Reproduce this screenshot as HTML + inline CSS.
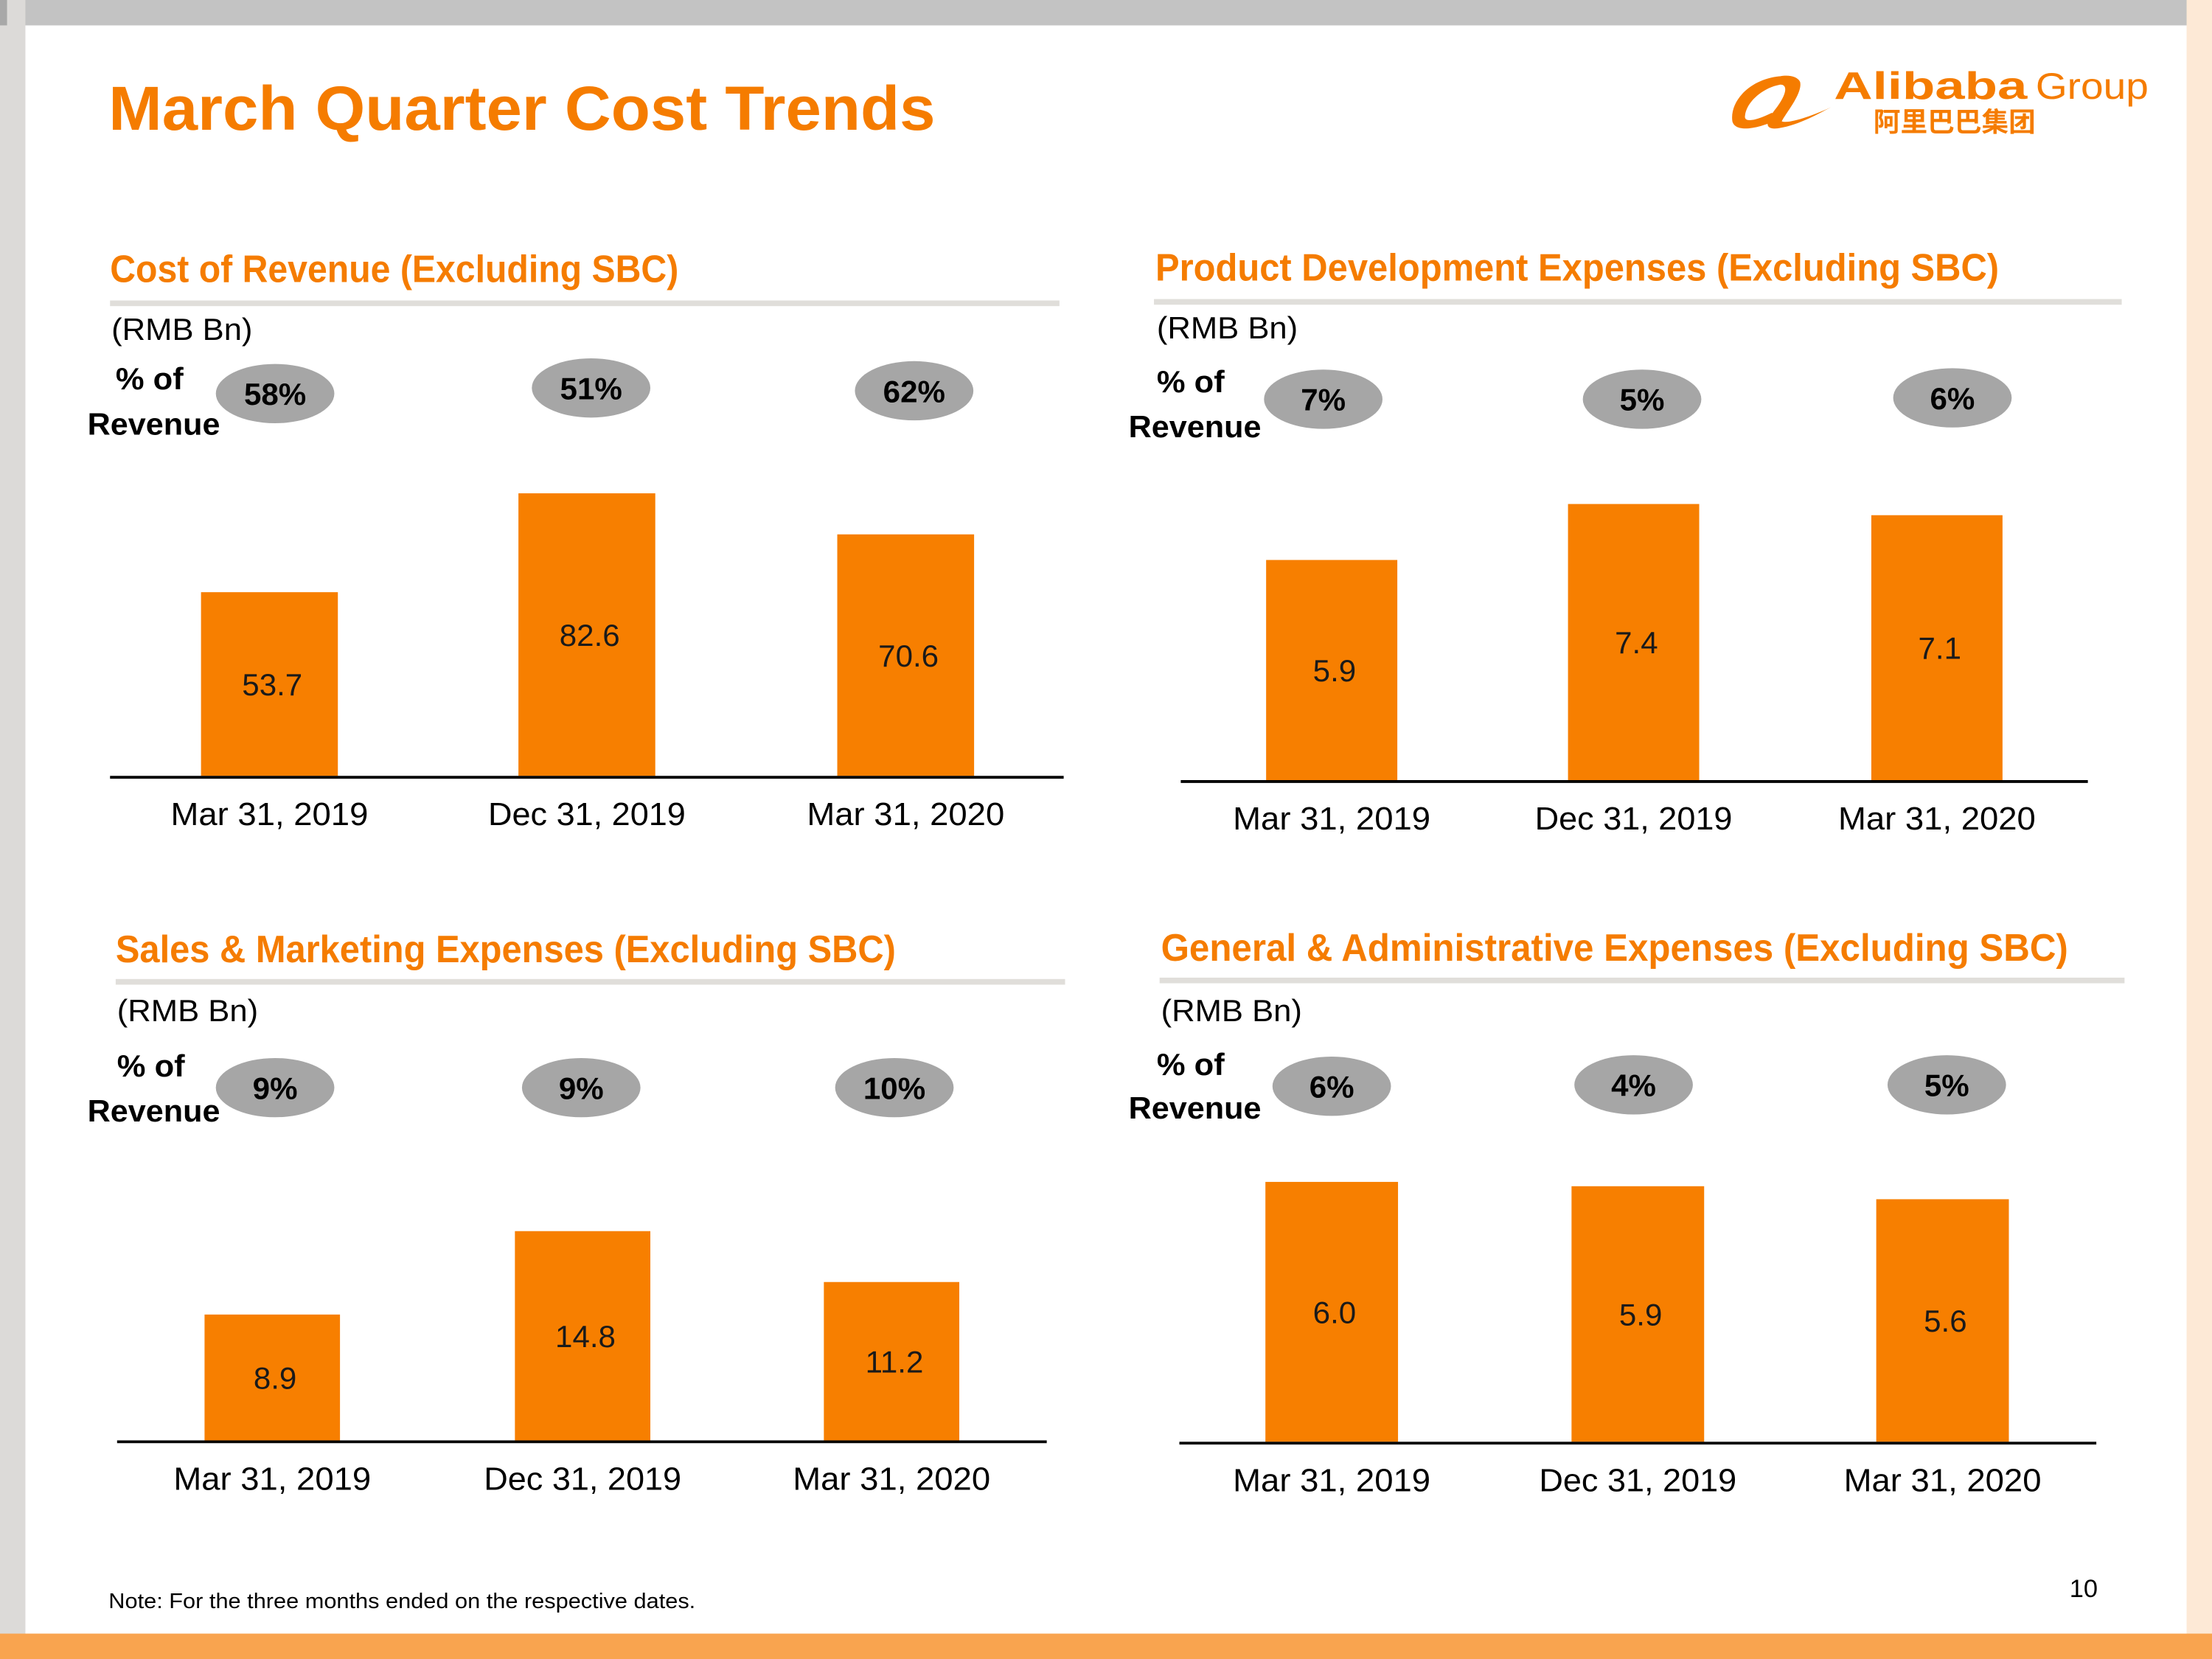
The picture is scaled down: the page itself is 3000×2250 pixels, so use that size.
<!DOCTYPE html>
<html><head><meta charset="utf-8">
<style>
html,body{margin:0;padding:0;background:#fff;}
svg{display:block;}
text{font-family:"Liberation Sans","Noto Sans CJK SC",sans-serif;}
</style></head>
<body>
<svg id="slide" width="3000" height="2250" viewBox="0 0 1568 1176" xmlns="http://www.w3.org/2000/svg">
  <rect x="0" y="0" width="1568" height="1176" fill="#ffffff"/>
  <rect x="0" y="0" width="1568" height="18" fill="#c3c3c3"/>
  <rect x="0" y="0" width="18" height="1176" fill="#dcdad8"/>
  <rect x="0" y="0" width="5" height="18" fill="#a8a8a8"/>
  <rect x="1550" y="0" width="18" height="1176" fill="#fde9d6"/>
  <rect x="0" y="1158" width="1568" height="18" fill="#f9a44f"/>

  <text x="77" y="92" font-size="44" font-weight="bold" fill="#f57c00" textLength="586" lengthAdjust="spacingAndGlyphs">March Quarter Cost Trends</text>

  <g>
    <path d="M1262,54 C1240,56 1226,72 1228,86 C1230,94 1245,92 1262,84 L1256,80 C1244,86 1236,87 1237,82 C1238,72 1250,62 1262,60 C1268,60 1266,68 1258,78 C1252,86 1250,92 1260,91 C1275,89 1290,80 1298,76 C1285,82 1268,88 1263,86 C1266,80 1278,66 1276,58 C1274,54 1268,53 1262,54 Z" fill="#f57c00"/>
    <text x="1300" y="70" font-size="27" font-weight="bold" fill="#f57c00" textLength="137" lengthAdjust="spacingAndGlyphs">Alibaba</text>
    <text x="1443" y="70" font-size="26" fill="#f57c00" textLength="80" lengthAdjust="spacingAndGlyphs">Group</text>
    <text x="1328" y="93" font-size="19" font-weight="bold" fill="#f57c00" textLength="115" lengthAdjust="spacingAndGlyphs">阿里巴巴集团</text>
  </g>

  <g id="charts"></g>

  <text x="77" y="1140" font-size="15" fill="#000" textLength="416" lengthAdjust="spacingAndGlyphs">Note: For the three months ended on the respective dates.</text>
  <text x="1467" y="1132" font-size="18" fill="#000">10</text>
</svg>
<script>
// Shared categories
const categories = ["Mar 31, 2019", "Dec 31, 2019", "Mar 31, 2020"];
// Chart 1: Cost of Revenue
const costRevenueValues = [53.7, 82.6, 70.6];
const costRevenuePct = ["58%", "51%", "62%"];
// Chart 2: Product Development
const productDevValues = [5.9, 7.4, 7.1];
const productDevPct = ["7%", "5%", "6%"];
// Chart 3: Sales & Marketing
const salesMktValues = [8.9, 14.8, 11.2];
const salesMktPct = ["9%", "9%", "10%"];
// Chart 4: General & Administrative
const genAdminValues = [6.0, 5.9, 5.6];
const genAdminPct = ["6%", "4%", "5%"];

const NS = "http://www.w3.org/2000/svg";
const root = document.getElementById("charts");
function mk(tag, attrs, parent) {
  const e = document.createElementNS(NS, tag);
  for (const k in attrs) e.setAttribute(k, attrs[k]);
  parent.appendChild(e);
  return e;
}

const panels = [
  {key:"cost-of-revenue", title:"Cost of Revenue (Excluding SBC)", values:costRevenueValues, pct:costRevenuePct,
   tx:78, ty:200, tw:403, ulx:78, uly:213, ulw:673, rmbx:79, rmby:241, ofx:82, ofy:276, revx:62, revy:308,
   ellX:[195,419,648], ellY:[279,275,277], base:550, axX1:78, axX2:754, centers:[191,416,642], barW:97, pxPerUnit:2.425, catY:585},
  {key:"product-development", title:"Product Development Expenses (Excluding SBC)", values:productDevValues, pct:productDevPct,
   tx:819, ty:199, tw:598, ulx:818, uly:212, ulw:686, rmbx:820, rmby:240, ofx:820, ofy:278, revx:800, revy:310,
   ellX:[938,1164,1384], ellY:[283,283,282], base:553, axX1:837, axX2:1480, centers:[944,1158,1373], barW:93, pxPerUnit:26.45, catY:588},
  {key:"sales-marketing", title:"Sales & Marketing Expenses (Excluding SBC)", values:salesMktValues, pct:salesMktPct,
   tx:82, ty:682, tw:553, ulx:82, uly:694, ulw:673, rmbx:83, rmby:724, ofx:83, ofy:763, revx:62, revy:795,
   ellX:[195,412,634], ellY:[771,771,771], base:1021, axX1:83, axX2:742, centers:[193,413,632], barW:96, pxPerUnit:10.02, catY:1056},
  {key:"general-admin", title:"General & Administrative Expenses (Excluding SBC)", values:genAdminValues, pct:genAdminPct,
   tx:823, ty:681, tw:643, ulx:822, uly:693, ulw:684, rmbx:823, rmby:724, ofx:820, ofy:762, revx:800, revy:793,
   ellX:[944,1158,1380], ellY:[770,769,769], base:1022, axX1:836, axX2:1486, centers:[944,1161,1377], barW:94, pxPerUnit:30.7, catY:1057}
];

panels.forEach(p => {
  const g = mk("g", {}, root);
  
  
  const yScale = v => p.base - v * p.pxPerUnit;

  const t = mk("text", {x:p.tx, y:p.ty, "font-size":27, "font-weight":"bold", fill:"#f57c00", textLength:p.tw, lengthAdjust:"spacingAndGlyphs"}, g);
  t.textContent = p.title;
  
  

  const ul = mk("rect", {x:p.ulx, y:p.uly, width:p.ulw, height:4, fill:"#e0deda"}, g);
  
  

  const rmb = mk("text", {x:p.rmbx, y:p.rmby, "font-size":22, fill:"#000", textLength:100, lengthAdjust:"spacingAndGlyphs"}, g);
  rmb.textContent = "(RMB Bn)";
  
  

  const of = mk("text", {x:p.ofx, y:p.ofy, "font-size":22, "font-weight":"bold", fill:"#000", textLength:48, lengthAdjust:"spacingAndGlyphs"}, g);
  of.textContent = "% of";
  
  
  const rv = mk("text", {x:p.revx, y:p.revy, "font-size":22, "font-weight":"bold", fill:"#000", textLength:94, lengthAdjust:"spacingAndGlyphs"}, g);
  rv.textContent = "Revenue";
  
  

  p.pct.forEach((s, i) => {
    const el = mk("ellipse", {cx:p.ellX[i], cy:p.ellY[i], rx:42, ry:21, fill:"#a6a6a6"}, g);
    
    
    const tx = mk("text", {x:p.ellX[i], y:p.ellY[i] + 8, "font-size":22, "font-weight":"bold", fill:"#000", "text-anchor":"middle"}, g);
    tx.textContent = s;
    
    
  });

  p.values.forEach((v, i) => {
    const top = yScale(v);
    const b = mk("rect", {x:p.centers[i] - p.barW/2, y:top, width:p.barW, height:p.base - top, fill:"#f77f00"}, g);
    
    
    const lbl = mk("text", {x:p.centers[i] + 2, y:(top + p.base)/2 + 8, "font-size":22, fill:"#1a1a1a", "text-anchor":"middle"}, g);
    lbl.textContent = v.toFixed(1);
    
    
    const c = mk("text", {x:p.centers[i], y:p.catY, "font-size":23, fill:"#000", "text-anchor":"middle", textLength:140, lengthAdjust:"spacingAndGlyphs"}, g);
    c.textContent = categories[i];
    
    
  });

  const ax = mk("line", {x1:p.axX1, x2:p.axX2, y1:p.base + 1, y2:p.base + 1, stroke:"#000", "stroke-width":2}, g);
  
  
});
</script>
</body></html>
